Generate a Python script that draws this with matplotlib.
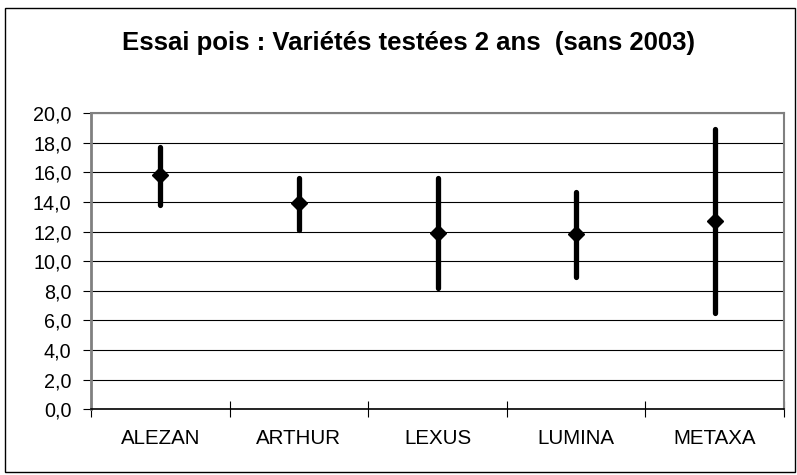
import matplotlib.pyplot as plt
from matplotlib.patches import Rectangle
from matplotlib.ticker import FuncFormatter

plt.rcParams['font.family'] = ['Liberation Sans', 'DejaVu Sans']

# Données (rendement : max, min, moyenne)
varietes = ['ALEZAN', 'ARTHUR', 'LEXUS', 'LUMINA', 'METAXA']
haut = [17.7, 15.6, 15.6, 14.7, 18.9]
bas = [13.8, 12.1, 8.2, 8.9, 6.5]
moyenne = [15.8, 13.9, 11.9, 11.8, 12.7]

fig = plt.figure(figsize=(7.97, 4.75), dpi=100)
ax = fig.add_axes([0.1142, 0.1383, 0.8695, 0.6238])

x = range(len(varietes))
ax.vlines(x, bas, haut, color='black', linewidth=3.8, capstyle='round', zorder=3)
ax.plot(x, moyenne, linestyle='none', marker='D', markersize=8.5,
        color='black', zorder=4)

ax.set_xlim(-0.5, len(varietes) - 0.5)
ax.set_ylim(0, 20)
ax.set_yticks(range(0, 21, 2))
ax.yaxis.set_major_formatter(FuncFormatter(lambda v, p: f'{v:.1f}'.replace('.', ',')))
ax.grid(axis='y', color='black', linewidth=0.8)
ax.set_axisbelow(True)

# categories entre les traits (style Excel)
ax.set_xticks([i + 0.5 for i in range(-1, len(varietes))])
ax.set_xticklabels([])
ax.set_xticks(list(x), minor=True)
ax.set_xticklabels(varietes, minor=True, fontsize=14.8)
ax.tick_params(axis='x', which='minor', length=0, pad=14)
ax.tick_params(axis='x', which='major', direction='inout', length=11, width=0.8)
ax.tick_params(axis='y', direction='out', length=6, width=0.8, labelsize=14.2, pad=8)

for s in ['top', 'right']:
    ax.spines[s].set_color('#808080')
    ax.spines[s].set_linewidth(1.5)
ax.spines['left'].set_color('#808080')
ax.spines['left'].set_linewidth(2)
ax.spines['bottom'].set_color('black')
ax.spines['bottom'].set_linewidth(1.2)

fig.text(0.513, 0.8947, 'Essai pois : Variétés testées 2 ans  (sans 2003)',
         ha='center', va='baseline', fontsize=18.5, fontweight='bold')

fig.patches.append(Rectangle((5 / 797, 3 / 475), 790 / 797, 464 / 475,
                             transform=fig.transFigure, fill=False,
                             edgecolor='black', linewidth=1))

fig.savefig('out.png', dpi=100)
